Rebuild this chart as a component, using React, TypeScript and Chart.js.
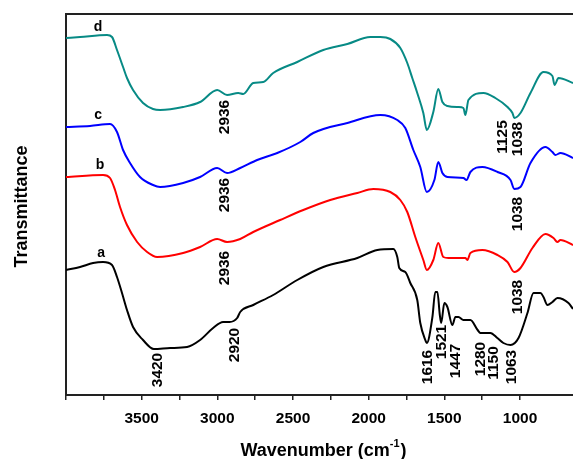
import React, { useEffect, useRef } from 'react';
import { Chart, registerables } from 'chart.js';
Chart.register(...registerables);

// Wavenumber (cm-1) and transmittance (arbitrary, offset) for each spectrum
const WN_A = [4000, 3907, 3821, 3755, 3696, 3663, 3630, 3597, 3557, 3491, 3420, 3312, 3200, 3114, 3028, 2962, 2920, 2869, 2849, 2763, 2631, 2472, 2300, 2075, 1943, 1837, 1811, 1798, 1758, 1725, 1679, 1659, 1626, 1616, 1579, 1560, 1546, 1530, 1521, 1500, 1480, 1447, 1427, 1407, 1374, 1328, 1280, 1262, 1196, 1150, 1110, 1063, 1010, 951, 911, 865, 845, 819, 786, 753, 680, 650];
const T_A = [125, 128, 132, 133, 130, 118, 102, 85, 68, 55, 46, 47, 48, 55, 67, 73, 73, 77, 83, 90, 100, 115, 128, 137, 145, 146, 138, 127, 123, 112, 95, 72, 55, 52, 78, 103, 103, 80, 72, 92, 88, 70, 78, 78, 75, 75, 65, 62, 62, 57, 52, 50, 57, 82, 102, 102, 98, 90, 93, 97, 92, 86];

const WN_B = [4000, 3755, 3709, 3676, 3643, 3597, 3530, 3464, 3398, 3226, 3114, 3001, 2936, 2849, 2763, 2585, 2432, 2254, 2075, 1969, 1857, 1791, 1745, 1692, 1639, 1616, 1573, 1540, 1507, 1473, 1361, 1348, 1328, 1249, 1149, 1083, 1038, 997, 918, 832, 779, 753, 733, 650];
const T_B = [218, 220, 217, 205, 188, 170, 153, 143, 138, 142, 148, 156, 153, 156, 163, 175, 185, 195, 202, 206, 203, 195, 183, 158, 135, 125, 135, 152, 138, 137, 137, 135, 142, 145, 140, 133, 123, 127, 147, 161, 157, 153, 155, 150];

const WN_C = [4000, 3841, 3709, 3663, 3623, 3577, 3511, 3425, 3378, 3226, 3114, 3001, 2936, 2849, 2737, 2604, 2452, 2366, 2141, 1923, 1811, 1758, 1705, 1659, 1616, 1566, 1540, 1513, 1480, 1374, 1354, 1328, 1249, 1149, 1063, 1038, 997, 931, 832, 786, 766, 733, 650];
const T_C = [268, 269, 271, 263, 245, 232, 218, 210, 208, 212, 218, 227, 222, 227, 235, 242, 253, 262, 272, 280, 275, 267, 245, 228, 203, 215, 233, 222, 218, 217, 215, 223, 228, 223, 215, 206, 208, 232, 248, 243, 240, 242, 237];

const WN_D = [4000, 3907, 3729, 3696, 3663, 3623, 3597, 3557, 3491, 3425, 3378, 3226, 3114, 3001, 2936, 2862, 2829, 2763, 2697, 2631, 2472, 2300, 2141, 1989, 1923, 1857, 1791, 1745, 1712, 1679, 1639, 1616, 1573, 1540, 1513, 1480, 1407, 1374, 1361, 1341, 1242, 1163, 1083, 1050, 1038, 997, 931, 845, 786, 772, 746, 650];
const T_D = [357, 358, 360, 358, 345, 328, 317, 305, 292, 286, 285, 288, 293, 305, 300, 302, 301, 312, 313, 322, 333, 345, 351, 358, 358, 356, 347, 332, 317, 302, 282, 265, 283, 306, 293, 289, 288, 287, 280, 295, 302, 297, 288, 282, 277, 282, 302, 323, 319, 310, 317, 312];

// Peak annotations (rotated text): label, wavenumber position, transmittance position
const PEAK_TEXT = ['2936', '2936', '2936', '2920', '3420', '1125', '1038', '1038', '1038', '1616', '1521', '1447', '1280', '1150', '1063'];
const PEAK_WN = [2955, 2955, 2955, 2895, 3398, 1123, 1024, 1024, 1024, 1619, 1526, 1434, 1268, 1182, 1063];
const PEAK_T = [278, 200, 127, 50, 25, 258, 256, 181, 98, 28, 53, 34, 36, 32, 28];

// Curve letters
const CURVE_TEXT = ['a', 'b', 'c', 'd'];
const CURVE_WN = [3768, 3775, 3788, 3788];
const CURVE_T = [142, 230, 280, 368];

const FONT = '"Liberation Sans", Arial, Helvetica, sans-serif';

export default function App() {
  const ref = useRef<HTMLCanvasElement>(null);
  useEffect(() => {
    const canvas = ref.current!;
    const mk = (wn: number[], t: number[]) => wn.map((x, i) => ({ x, y: t[i] }));

    const overlay = {
      id: 'overlay',
      afterDraw(chart: any) {
        const { ctx, chartArea, scales } = chart;
        const xs = scales.x;
        const ys = scales.y;
        ctx.save();
        // top frame line
        ctx.strokeStyle = '#222';
        ctx.lineWidth = 2;
        ctx.beginPath();
        ctx.moveTo(chartArea.left - 1, chartArea.top);
        ctx.lineTo(chartArea.right, chartArea.top);
        ctx.stroke();

        // peak labels
        ctx.fillStyle = '#000';
        ctx.font = `bold 15.5px ${FONT}`;
        ctx.textAlign = 'center';
        ctx.textBaseline = 'middle';
        PEAK_TEXT.forEach((t, i) => {
          const px = xs.getPixelForValue(PEAK_WN[i]);
          const py = ys.getPixelForValue(PEAK_T[i]);
          ctx.save();
          ctx.translate(px, py);
          ctx.rotate(-Math.PI / 2);
          ctx.fillText(t, 0, 1);
          ctx.restore();
        });

        // curve letters
        ctx.font = `bold 14px ${FONT}`;
        CURVE_TEXT.forEach((t, i) => {
          ctx.fillText(t, xs.getPixelForValue(CURVE_WN[i]), ys.getPixelForValue(CURVE_T[i]));
        });

        // y title
        ctx.save();
        ctx.font = `bold 18px ${FONT}`;
        ctx.translate(22, (chartArea.top + chartArea.bottom) / 2 + 2);
        ctx.rotate(-Math.PI / 2);
        ctx.fillText('Transmittance', 0, 0);
        ctx.restore();

        // x title with superscript
        const main = 'Wavenumber (cm';
        const sup = '-1';
        const end = ')';
        ctx.font = `bold 18px ${FONT}`;
        const w1 = ctx.measureText(main).width;
        const w3 = ctx.measureText(end).width;
        ctx.font = `bold 11px ${FONT}`;
        const w2 = ctx.measureText(sup).width;
        const total = w1 + w2 + 1 + w3;
        let x0 = (chartArea.left + chartArea.right) / 2 + 4 - total / 2;
        const base = 456;
        ctx.textAlign = 'left';
        ctx.textBaseline = 'alphabetic';
        ctx.font = `bold 18px ${FONT}`;
        ctx.fillText(main, x0, base);
        x0 += w1;
        ctx.font = `bold 11px ${FONT}`;
        ctx.fillText(sup, x0, base - 9);
        x0 += w2 + 1;
        ctx.font = `bold 18px ${FONT}`;
        ctx.fillText(end, x0, base);
        ctx.restore();
      },
    };

    const chart = new Chart(canvas, {
      type: 'line',
      data: {
        datasets: [
          { label: 'a', data: mk(WN_A, T_A), borderColor: '#000000' },
          { label: 'b', data: mk(WN_B, T_B), borderColor: '#FF0000' },
          { label: 'c', data: mk(WN_C, T_C), borderColor: '#0000FF' },
          { label: 'd', data: mk(WN_D, T_D), borderColor: '#078A85' },
        ],
      },
      options: {
        animation: false,
        responsive: false,
        maintainAspectRatio: false,
        devicePixelRatio: 1,
        layout: { padding: { top: 14, right: 0, left: 0, bottom: 0 } },
        plugins: { legend: { display: false }, tooltip: { enabled: false }, title: { display: false } },
        elements: {
          point: { radius: 0 },
          line: { borderWidth: 2, cubicInterpolationMode: 'monotone', fill: false },
        },
        scales: {
          x: {
            type: 'linear',
            min: 650,
            max: 4000,
            reverse: true,
            afterFit(s: any) { s.height = 64; },
            afterBuildTicks(s: any) { s.ticks = s.ticks.filter((t: any) => t.value % 250 === 0); },
            ticks: {
              stepSize: 250,
              autoSkip: false,
              maxRotation: 0,
              color: '#000',
              padding: 9,
              font: { family: FONT, size: 15.5, weight: 'bold' },
              callback: (v: any) => (v % 500 === 0 && v < 4000 ? String(v) : ''),
            },
            grid: { display: true, drawOnChartArea: false, drawTicks: true, tickLength: 5, color: '#222', lineWidth: 1.5 },
            border: { display: true, color: '#222', width: 2 },
          },
          y: {
            min: 0,
            max: 381,
            afterFit(s: any) { s.width = 66; },
            ticks: { display: false },
            grid: { display: false },
            border: { display: true, color: '#222', width: 2 },
          },
        },
      } as any,
      plugins: [overlay],
    });
    return () => chart.destroy();
  }, []);
  return (
    <div style={{ position: 'absolute', left: 0, top: 0, width: 573, height: 459, background: '#fff' }}>
      <canvas ref={ref} width={573} height={459} style={{ display: 'block', width: 573, height: 459 }} />
    </div>
  );
}
